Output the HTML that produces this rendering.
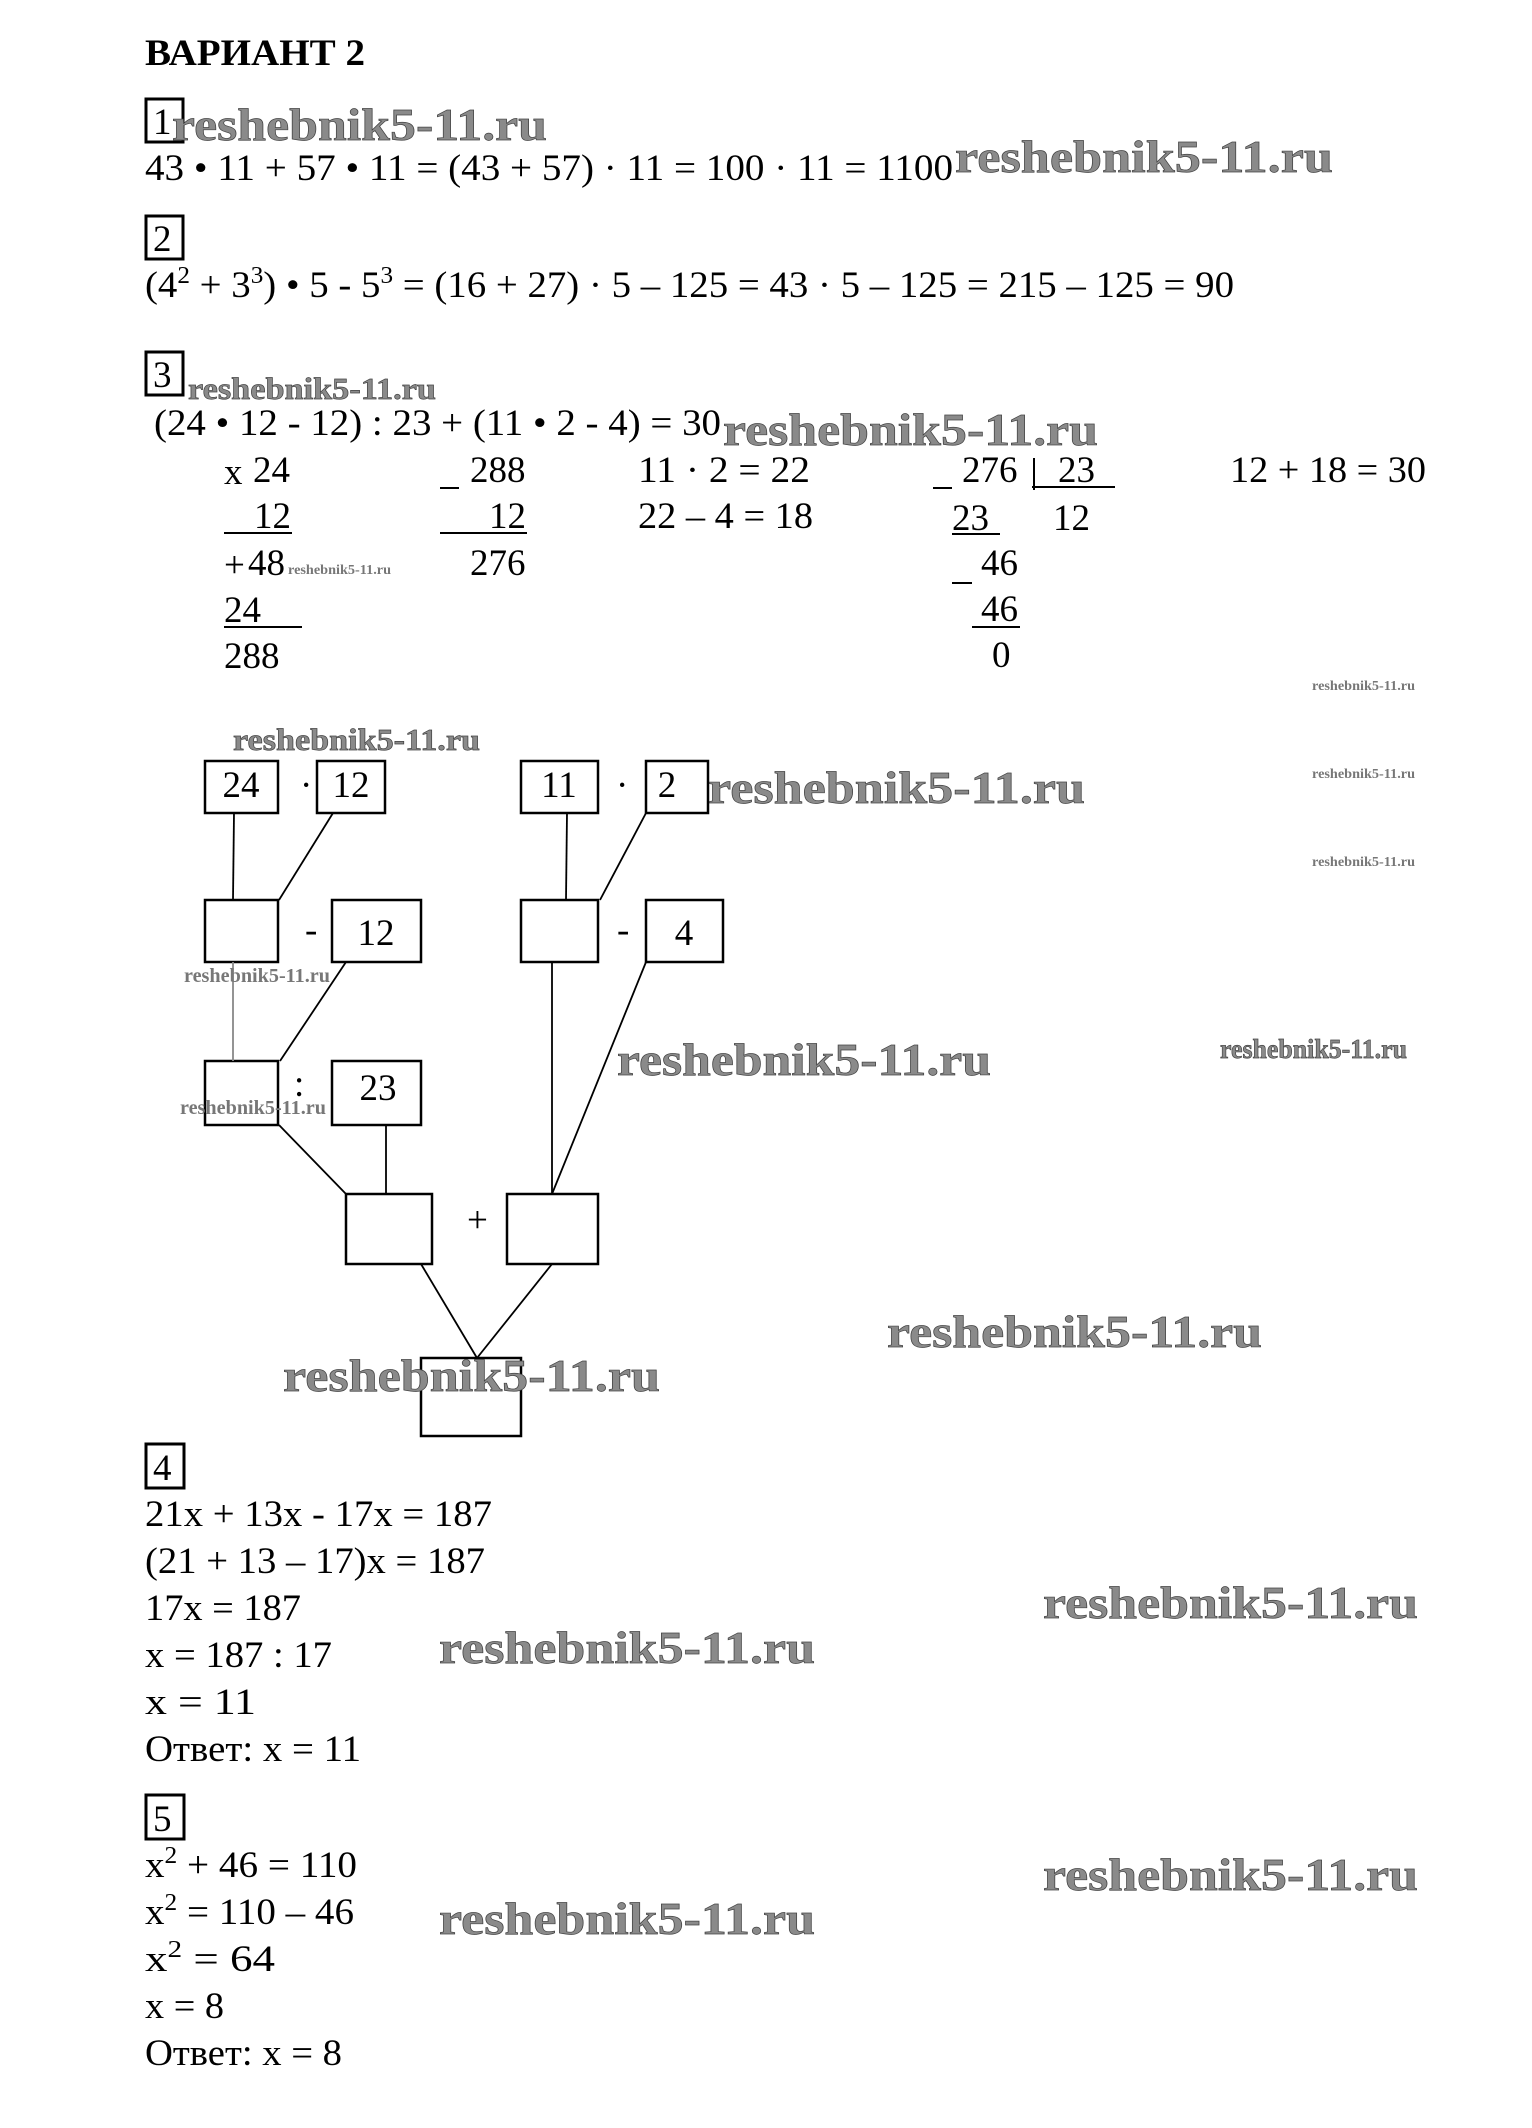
<!DOCTYPE html>
<html><head><meta charset="utf-8"><style>
html,body{margin:0;padding:0;background:#fff;}
svg{display:block;}
svg text{font-family:"Liberation Serif","Times New Roman",serif;}
.t{font-size:37px;fill:#000;}
.w{font-weight:bold;fill:#8a8a8a;stroke:#444;stroke-width:0.7;}
.ws{font-weight:bold;fill:#777;}
</style></head><body>
<svg width="1532" height="2128" viewBox="0 0 1532 2128" xmlns="http://www.w3.org/2000/svg" font-family="Liberation Serif, serif">
<g fill="none" stroke="#000" stroke-width="3">
<rect x="146" y="99" width="37" height="43"/>
<rect x="146" y="216" width="37" height="43"/>
<rect x="146" y="352" width="37" height="43"/>
<rect x="146" y="1444" width="38" height="44"/>
<rect x="146" y="1795" width="38" height="44"/>
</g>
<text class="t" x="145" y="65" font-weight="bold" font-size="34" textLength="220" lengthAdjust="spacingAndGlyphs">ВАРИАНТ 2</text>
<text class="t" x="153" y="134">1</text>
<text class="t" x="153" y="251">2</text>
<text class="t" x="153" y="387">3</text>
<text class="t" x="153" y="1480">4</text>
<text class="t" x="153" y="1831">5</text>

<text class="t" x="145" y="180" textLength="808" lengthAdjust="spacingAndGlyphs">43 • 11 + 57 • 11 = (43 + 57) · 11 = 100 · 11 = 1100</text>
<text class="t" x="145" y="297" textLength="1089" lengthAdjust="spacingAndGlyphs">(4<tspan font-size="24" dy="-14">2</tspan><tspan dy="14"> + 3</tspan><tspan font-size="24" dy="-14">3</tspan><tspan dy="14">) • 5 - 5</tspan><tspan font-size="24" dy="-14">3</tspan><tspan dy="14"> = (16 + 27) · 5 – 125 = 43 · 5 – 125 = 215 – 125 = 90</tspan></text>
<text class="t" x="154" y="435" textLength="567" lengthAdjust="spacingAndGlyphs">(24 • 12 - 12) : 23 + (11 • 2 - 4) = 30</text>

<text class="t" x="224" y="484" font-size="20">x</text>
<text class="t" x="253" y="482">24</text>
<text class="t" x="254" y="528">12</text>
<text class="t" x="224" y="577" font-size="20">+</text>
<text class="t" x="248" y="575">48</text>
<text class="t" x="224" y="622">24</text>
<text class="t" x="224" y="668">288</text>
<text class="t" x="470" y="482">288</text>
<text class="t" x="489" y="528">12</text>
<text class="t" x="470" y="575">276</text>
<text class="t" x="638" y="482" textLength="172" lengthAdjust="spacingAndGlyphs">11 · 2 = 22</text>
<text class="t" x="638" y="528" textLength="175" lengthAdjust="spacingAndGlyphs">22 – 4 = 18</text>
<text class="t" x="962" y="482">276</text>
<text class="t" x="1058" y="482">23</text>
<text class="t" x="952" y="530">23</text>
<text class="t" x="1053" y="530">12</text>
<text class="t" x="981" y="575">46</text>
<text class="t" x="981" y="621">46</text>
<text class="t" x="992" y="667">0</text>
<text class="t" x="1230" y="482" textLength="196" lengthAdjust="spacingAndGlyphs">12 + 18 = 30</text>
<g stroke="#000" stroke-width="2">
<line x1="224" y1="533" x2="292" y2="533"/>
<line x1="224" y1="627" x2="302" y2="627"/>
<line x1="440" y1="488" x2="459" y2="488"/>
<line x1="440" y1="533" x2="527" y2="533"/>
<line x1="933" y1="488" x2="952" y2="488"/>
<line x1="1034" y1="458" x2="1034" y2="490"/>
<line x1="1032" y1="487" x2="1115" y2="487"/>
<line x1="952" y1="534" x2="1000" y2="534"/>
<line x1="952" y1="583" x2="972" y2="583"/>
<line x1="972" y1="627" x2="1020" y2="627"/>
</g>

<g fill="none" stroke="#000" stroke-width="2.5">
<rect x="205" y="761" width="73" height="52"/>
<rect x="317" y="761" width="68" height="52"/>
<rect x="521" y="761" width="77" height="52"/>
<rect x="646" y="761" width="62" height="52"/>
<rect x="205" y="900" width="73" height="62"/>
<rect x="332" y="900" width="89" height="62"/>
<rect x="521" y="900" width="77" height="62"/>
<rect x="646" y="900" width="77" height="62"/>
<rect x="205" y="1061" width="73" height="64"/>
<rect x="332" y="1061" width="89" height="64"/>
<rect x="346" y="1194" width="86" height="70"/>
<rect x="507" y="1194" width="91" height="70"/>
<rect x="421" y="1358" width="100" height="78"/>
</g>
<g stroke="#000" stroke-width="1.8">
<line x1="234" y1="813" x2="233" y2="900"/>
<line x1="333" y1="813" x2="279" y2="900"/>
<line x1="567" y1="813" x2="566" y2="900"/>
<line x1="646" y1="813" x2="600" y2="900"/>
<line x1="233" y1="962" x2="233" y2="1061" stroke="#888"/>
<line x1="346" y1="962" x2="280" y2="1061"/>
<line x1="552" y1="962" x2="552" y2="1194"/>
<line x1="646" y1="962" x2="552" y2="1194"/>
<line x1="279" y1="1125" x2="346" y2="1194"/>
<line x1="386" y1="1125" x2="386" y2="1194"/>
<line x1="421" y1="1264" x2="477" y2="1358"/>
<line x1="552" y1="1264" x2="477" y2="1358"/>
</g>
<text class="t" x="241" y="797" text-anchor="middle">24</text>
<text class="t" x="351" y="797" text-anchor="middle">12</text>
<text class="t" x="559" y="797" text-anchor="middle">11</text>
<text class="t" x="667" y="797" text-anchor="middle">2</text>
<text class="t" x="376" y="945" text-anchor="middle">12</text>
<text class="t" x="684" y="945" text-anchor="middle">4</text>
<text class="t" x="378" y="1100" text-anchor="middle" fill="#555">23</text>
<text class="t" x="300" y="797" font-size="28">·</text>
<text class="t" x="616" y="797" font-size="28">·</text>
<text class="t" x="305" y="942">-</text>
<text class="t" x="617" y="942">-</text>
<text class="t" x="294" y="1096">:</text>
<text class="t" x="467" y="1232">+</text>

<text class="t" x="145" y="1526" textLength="347" lengthAdjust="spacingAndGlyphs">21x + 13x - 17x = 187</text>
<text class="t" x="145" y="1573" textLength="340" lengthAdjust="spacingAndGlyphs">(21 + 13 – 17)x = 187</text>
<text class="t" x="145" y="1620" textLength="156" lengthAdjust="spacingAndGlyphs">17x = 187</text>
<text class="t" x="145" y="1667" textLength="187" lengthAdjust="spacingAndGlyphs">x = 187 : 17</text>
<text class="t" x="145" y="1714" textLength="111" lengthAdjust="spacingAndGlyphs">x = 11</text>
<text class="t" x="145" y="1761" textLength="216" lengthAdjust="spacingAndGlyphs">Ответ: x = 11</text>
<text class="t" x="145" y="1877" textLength="212" lengthAdjust="spacingAndGlyphs">x<tspan font-size="24" dy="-14">2</tspan><tspan dy="14"> + 46 = 110</tspan></text>
<text class="t" x="145" y="1924" textLength="209" lengthAdjust="spacingAndGlyphs">x<tspan font-size="24" dy="-14">2</tspan><tspan dy="14"> = 110 – 46</tspan></text>
<text class="t" x="145" y="1971" textLength="130" lengthAdjust="spacingAndGlyphs">x<tspan font-size="24" dy="-14">2</tspan><tspan dy="14"> = 64</tspan></text>
<text class="t" x="145" y="2018" textLength="79" lengthAdjust="spacingAndGlyphs">x = 8</text>
<text class="t" x="145" y="2065" textLength="197" lengthAdjust="spacingAndGlyphs">Ответ: x = 8</text>

<g class="w">
<text x="172" y="140" font-size="46" textLength="375" lengthAdjust="spacingAndGlyphs">reshebnik5-11.ru</text>
<text x="955" y="172" font-size="46" textLength="378" lengthAdjust="spacingAndGlyphs">reshebnik5-11.ru</text>
<text x="188" y="399" font-size="31" textLength="248" lengthAdjust="spacingAndGlyphs">reshebnik5-11.ru</text>
<text x="723" y="445" font-size="46" textLength="375" lengthAdjust="spacingAndGlyphs">reshebnik5-11.ru</text>
<text x="233" y="750" font-size="31" textLength="247" lengthAdjust="spacingAndGlyphs">reshebnik5-11.ru</text>
<text x="708" y="803" font-size="46" textLength="377" lengthAdjust="spacingAndGlyphs">reshebnik5-11.ru</text>
<text x="617" y="1075" font-size="46" textLength="374" lengthAdjust="spacingAndGlyphs">reshebnik5-11.ru</text>
<text x="1220" y="1058" font-size="27" textLength="187" lengthAdjust="spacingAndGlyphs">reshebnik5-11.ru</text>
<text x="887" y="1347" font-size="46" textLength="375" lengthAdjust="spacingAndGlyphs">reshebnik5-11.ru</text>
<text x="283" y="1391" font-size="46" textLength="377" lengthAdjust="spacingAndGlyphs">reshebnik5-11.ru</text>
<text x="1043" y="1618" font-size="46" textLength="375" lengthAdjust="spacingAndGlyphs">reshebnik5-11.ru</text>
<text x="439" y="1663" font-size="46" textLength="376" lengthAdjust="spacingAndGlyphs">reshebnik5-11.ru</text>
<text x="1043" y="1890" font-size="46" textLength="375" lengthAdjust="spacingAndGlyphs">reshebnik5-11.ru</text>
<text x="439" y="1934" font-size="46" textLength="376" lengthAdjust="spacingAndGlyphs">reshebnik5-11.ru</text>
</g>
<g class="ws">
<text x="288" y="574" font-size="14" textLength="103" lengthAdjust="spacingAndGlyphs">reshebnik5-11.ru</text>
<text x="1312" y="690" font-size="14" textLength="103" lengthAdjust="spacingAndGlyphs">reshebnik5-11.ru</text>
<text x="1312" y="778" font-size="14" textLength="103" lengthAdjust="spacingAndGlyphs">reshebnik5-11.ru</text>
<text x="1312" y="866" font-size="14" textLength="103" lengthAdjust="spacingAndGlyphs">reshebnik5-11.ru</text>
<text x="184" y="982" font-size="20" textLength="146" lengthAdjust="spacingAndGlyphs">reshebnik5-11.ru</text>
<text x="180" y="1114" font-size="20" textLength="146" lengthAdjust="spacingAndGlyphs">reshebnik5-11.ru</text>
</g>
</svg>
</body></html>
